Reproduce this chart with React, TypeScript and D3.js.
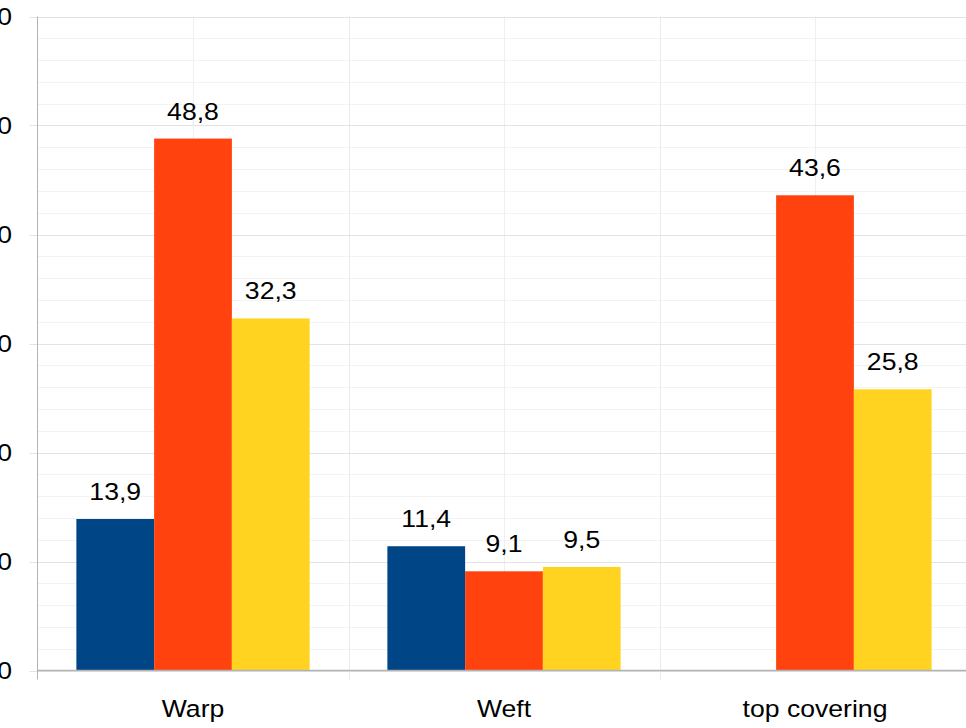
import React from "react";
import * as d3 from "d3";

const categories = ["Warp", "Weft", "top covering"];
const seriesNames = ["Series 1", "Series 2", "Series 3"];
const seriesA: (number | null)[] = [13.9, 11.4, null];
const seriesB: (number | null)[] = [48.8, 9.1, 43.6];
const seriesC: (number | null)[] = [32.3, 9.5, 25.8];
const yTicks = [0, 10, 20, 30, 40, 50, 60];
const colors = ["#004586", "#ff420e", "#ffd320"];

const W = 966;
const H = 728;
const left = 37.5;
const catW = 311;
const top = 16.5;
const bottom = 670.5;
const FS = 24.7;
const SX = 1.077;

function T({ x, y, anchor, children, baseline }: { x: number; y: number; anchor: string; children: React.ReactNode; baseline?: string }) {
  return (
    <text
      transform={`translate(${x},${y}) scale(${SX},1)`}
      textAnchor={anchor}
      dominantBaseline={baseline}
      fontSize={FS}
      fill="#000"
    >
      {children}
    </text>
  );
}

export default function App() {
  const series = [seriesA, seriesB, seriesC];
  const x0 = d3.scaleBand<string>().domain(categories).range([left, left + catW * categories.length]).paddingInner(0).paddingOuter(0);
  const x1 = d3.scaleBand<string>().domain(seriesNames).range([0, x0.bandwidth()]).paddingInner(0).paddingOuter(0.5);
  const y = d3.scaleLinear().domain([0, 60]).range([bottom, top]);
  const minorTicks = d3.range(0, 61, 2).filter((v) => v % 10 !== 0);
  const fmt = (v: number) => d3.format(".1f")(v).replace(".", ",");
  const font = "'Liberation Sans', Arial, sans-serif";
  const boundaries = d3.range(0, categories.length + 1).map((i) => left + i * catW);
  const centers = categories.map((c) => (x0(c) as number) + x0.bandwidth() / 2);
  const right = left + catW * categories.length;

  return (
    <svg width={W} height={H} style={{ position: "absolute", left: 0, top: 0, background: "#fff" }} fontFamily={font}>
      {minorTicks.map((t) => (
        <line key={"m" + t} x1={left} x2={right} y1={Math.round(y(t)) + 0.5} y2={Math.round(y(t)) + 0.5} stroke="#f3f3f3" strokeWidth={1} />
      ))}
      {centers.map((c, i) => (
        <line key={"vc" + i} x1={Math.round(c) + 0.5} x2={Math.round(c) + 0.5} y1={top} y2={bottom} stroke="#efefef" strokeWidth={1} />
      ))}
      {boundaries.slice(1).map((b, i) => (
        <line key={"vb" + i} x1={Math.round(b) + 0.5} x2={Math.round(b) + 0.5} y1={top} y2={bottom + 9} stroke="#eaeaea" strokeWidth={1} />
      ))}
      {yTicks.map((t) => (
        <line key={"g" + t} x1={left - 8} x2={right} y1={Math.round(y(t)) + 0.5} y2={Math.round(y(t)) + 0.5} stroke="#e3e3e3" strokeWidth={1} />
      ))}
      {yTicks.map((t) => (
        <T key={"yl" + t} x={12} y={y(t) + 8.5} anchor="end">
          {t}
        </T>
      ))}
      {categories.map((c, ci) =>
        series.map((s, si) => {
          const v = s[ci];
          if (v == null) return null;
          const bx = (x0(c) as number) + (x1(seriesNames[si]) as number);
          return (
            <g key={c + si}>
              <rect x={bx} y={y(v)} width={x1.bandwidth()} height={y(0) - y(v)} fill={colors[si]} />
              <T x={bx + x1.bandwidth() / 2} y={y(v) - 19} anchor="middle">
                {fmt(v)}
              </T>
            </g>
          );
        })
      )}
      <line x1={left} x2={left} y1={top} y2={bottom + 9} stroke="#b3b3b3" strokeWidth={1} />
      <line x1={left} x2={right} y1={Math.round(bottom) + 0.5 - 1} y2={Math.round(bottom) + 0.5 - 1} stroke="#b3b3b3" strokeWidth={1.5} />
      {categories.map((c, i) => (
        <T key={"xl" + c} x={centers[i]} y={717} anchor="middle">
          {c}
        </T>
      ))}
    </svg>
  );
}
